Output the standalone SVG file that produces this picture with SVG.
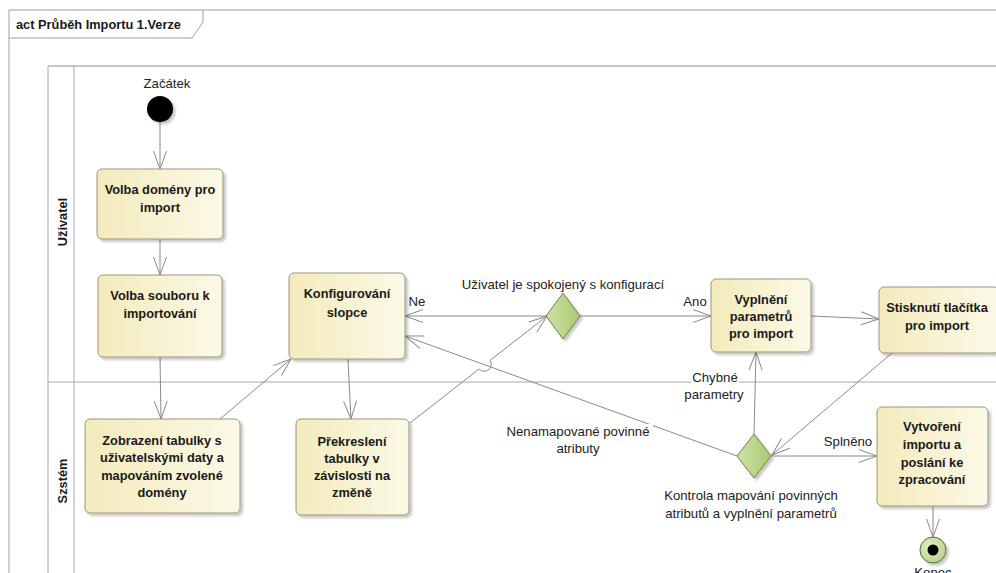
<svg xmlns="http://www.w3.org/2000/svg" width="996" height="573" viewBox="0 0 996 573">
<style>
.frame{fill:none;stroke:#a0a0a0;stroke-width:1}
.pool{fill:none;stroke:#a8a8a8;stroke-width:1}
.box{fill:url(#gBox);stroke:#9a9678;stroke-width:1;filter:url(#sh)}
.dia{fill:url(#gDia);stroke:#6f7f55;stroke-width:1;filter:url(#sh)}
.bt{font-family:"Liberation Sans",Arial,sans-serif;font-size:12.8px;font-weight:bold;fill:#1a1a1a;text-anchor:middle}
.lt{font-family:"Liberation Sans",Arial,sans-serif;font-size:13.2px;fill:#222;text-anchor:middle}
.con{fill:none;stroke:#8a8a8a;stroke-width:1;marker-end:url(#arr)}
</style>
<defs>
<linearGradient id="gBox" x1="0" y1="0" x2="1" y2="0">
<stop offset="0" stop-color="#f3ebbc"/>
<stop offset="1" stop-color="#fcf9e7"/>
</linearGradient>
<linearGradient id="gDia" x1="0" y1="0" x2="1" y2="0">
<stop offset="0" stop-color="#cde2a2"/>
<stop offset="1" stop-color="#acc973"/>
</linearGradient>
<radialGradient id="gEnd" cx="0.4" cy="0.4" r="0.7">
<stop offset="0" stop-color="#e4f0c8"/>
<stop offset="1" stop-color="#b5d080"/>
</radialGradient>
<filter id="sh" x="-20%" y="-20%" width="150%" height="150%">
<feDropShadow dx="2.5" dy="2.5" stdDeviation="1.2" flood-color="#000" flood-opacity="0.22"/>
</filter>
<marker id="arr" markerWidth="20" markerHeight="16" refX="18" refY="7" orient="auto" markerUnits="userSpaceOnUse" overflow="visible">
<path d="M0,0.5 L18,7 L0,13.5" fill="none" stroke="#8a8a8a" stroke-width="1"/>
</marker>
</defs>
<rect x="0" y="0" width="996" height="573" fill="#fff"/>

<g id="frame">
<path class="frame" d="M9,573 V10 H996"/>
<path class="frame" d="M9,38 H192 L203,22 V10"/>
<text x="16" y="29" font-family="'Liberation Sans',Arial,sans-serif" font-size="12.8" font-weight="bold" fill="#1a1a1a">act Průběh Importu 1.Verze</text>
</g>

<g id="pool">
<line x1="48" y1="66" x2="996" y2="66" stroke="#c8c8c8" stroke-width="2"/>
<path class="pool" d="M48,66 V573 M74,66 V573 M48,382 H996"/>
<text class="bt" transform="translate(67,222) rotate(-90)">Uživatel</text>
<text class="bt" transform="translate(67,481) rotate(-90)">Szstém</text>
</g>

<g id="connectors">
<path class="con" d="M160,122 L160,169"/>
<path class="con" d="M160,239 L160,275"/>
<path class="con" d="M160,357 L161,419"/>
<path class="con" d="M220,419 L291,359"/>
<path class="con" d="M348,359 L351,419"/>
<path class="con" d="M410,423 L479.1,369 A7,7 0 0 0 490.1,360.4 L547,316"/>
<path class="con" d="M547,316 L405,316"/>
<path class="con" d="M580,316 L711,316"/>
<path class="con" d="M811,316 L879,319"/>
<path class="con" d="M892,353 L772,455"/>
<path class="con" d="M754,434 L756,352"/>
<path class="con" d="M737,456 L405,336"/>
<path class="con" d="M771,456 L877,456"/>
<path class="con" d="M933,506 L933,537"/>
</g>

<g id="labels">
<text class="lt" x="563" y="289">Uživatel je spokojený s konfigurací</text>
<text class="lt" x="417" y="306">Ne</text>
<text class="lt" x="695" y="306">Ano</text>
<rect x="691" y="371" width="48" height="32" fill="#fff"/>
<text class="lt" x="715" y="382">Chybné</text>
<text class="lt" x="714" y="399">parametry</text>
<rect x="505" y="424" width="148" height="32" fill="#fff"/>
<text class="lt" x="578" y="436">Nenamapované povinné</text>
<text class="lt" x="578" y="453">atributy</text>
<text class="lt" x="848" y="446">Splněno</text>
</g>

<g id="start">
<text class="lt" x="167" y="88">Začátek</text>
<circle cx="160" cy="109" r="13" fill="#000" filter="url(#sh)"/>
</g>

<g id="n1">
<rect class="box" x="97" y="169" width="126" height="70" rx="5"/>
<text class="bt" x="160" y="194">Volba domény pro</text>
<text class="bt" x="160" y="212">import</text>
</g>

<g id="n2">
<rect class="box" x="98" y="275" width="124" height="82" rx="5"/>
<text class="bt" x="160" y="300">Volba souboru k</text>
<text class="bt" x="160" y="318">importování</text>
</g>

<g id="n3">
<rect class="box" x="289" y="273" width="116" height="86" rx="5"/>
<text class="bt" x="347" y="298">Konfigurování</text>
<text class="bt" x="347" y="317">slopce</text>
</g>

<g id="d1">
<path class="dia" d="M563,293 L580,316 L563,339 L546,316 Z"/>
</g>

<g id="n4">
<rect class="box" x="711" y="279" width="100" height="73" rx="5"/>
<text class="bt" x="761" y="304">Vyplnění</text>
<text class="bt" x="761" y="321">parametrů</text>
<text class="bt" x="761" y="338">pro import</text>
</g>

<g id="n5">
<rect class="box" x="879" y="287" width="120" height="66" rx="5"/>
<text class="bt" x="937" y="312">Stisknutí tlačítka</text>
<text class="bt" x="937" y="330">pro import</text>
</g>

<g id="n6">
<rect class="box" x="85" y="419" width="155" height="94" rx="5"/>
<text class="bt" x="162" y="445">Zobrazení tabulky s</text>
<text class="bt" x="162" y="462">uživatelskými daty a</text>
<text class="bt" x="162" y="480">mapováním zvolené</text>
<text class="bt" x="162" y="497">domény</text>
</g>

<g id="n7">
<rect class="box" x="296" y="419" width="113" height="96" rx="5"/>
<text class="bt" x="352" y="446">Překreslení</text>
<text class="bt" x="352" y="463">tabulky v</text>
<text class="bt" x="352" y="480">závislosti na</text>
<text class="bt" x="352" y="497">změně</text>
</g>

<g id="d2">
<path class="dia" d="M754,434 L771,456 L754,478 L737,456 Z"/>
<text class="lt" x="751" y="500">Kontrola mapování povinných</text>
<text class="lt" x="751" y="518">atributů a vyplnění parametrů</text>
</g>

<g id="n8">
<rect class="box" x="877" y="407" width="111" height="99" rx="5"/>
<text class="bt" x="932" y="431">Vytvoření</text>
<text class="bt" x="932" y="449">importu a</text>
<text class="bt" x="932" y="467">poslání ke</text>
<text class="bt" x="932" y="484">zpracování</text>
</g>

<g id="end">
<circle cx="933" cy="550" r="13" fill="url(#gEnd)" stroke="#5d6b4a" stroke-width="1" filter="url(#sh)"/>
<circle cx="933" cy="550" r="5.5" fill="#000"/>
<text class="lt" x="933" y="577">Konec</text>
</g>
</svg>
